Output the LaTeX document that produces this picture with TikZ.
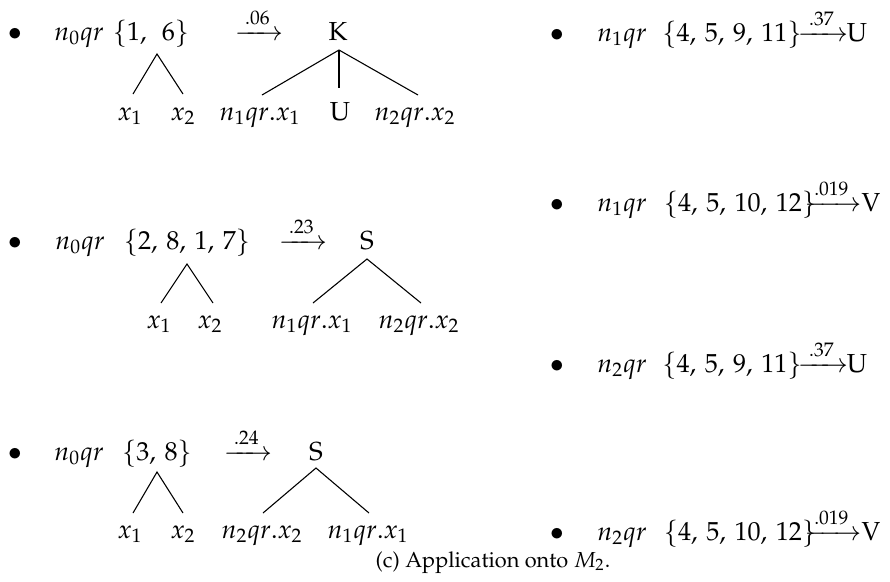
\documentclass[tikz,border=0pt]{standalone}
\usepackage{amsmath}
\usepackage[T1]{fontenc}
\usepackage{mathpazo}
\newcommand{\wlab}[1]{\xrightarrow{\hspace{2pt}#1\hspace{2pt}}}
\begin{document}
\begin{tikzpicture}[x=0.46pt,y=-0.46pt,
  every node/.style={inner sep=0pt, anchor=base, font=\fontsize{12}{14}\selectfont},
  capt/.style={font=\fontsize{10}{12}\selectfont},
  branch/.style={line width=0.5pt}]
\useasboundingbox (0,0) rectangle (890,581);
% ---------- row 1 left ----------
\node (b1) at (15,40) {$\bullet$};
\node (q1) at (79,40) {$n_0qr$};
\node (s1) at (151,40) {$\{1,\ \,6\}$};
\node (r1) at (259,40) {$\wlab{.06}$};
\node (K1) at (338,40) {K};
\node (l1a) at (130,120) {$x_1$};
\node (l1b) at (183,120) {$x_2$};
\node (l1c) at (260,120) {$n_1qr.x_1$};
\node (l1d) at (340,120) {U};
\node (l1e) at (415,120) {$n_2qr.x_2$};
\coordinate (t1) at (157,54);
\coordinate (t1a) at (133,94);
\coordinate (t1b) at (183,94);
\coordinate (k1) at (339,50);
\coordinate (k1a) at (262,95);
\coordinate (k1b) at (339,88);
\coordinate (k1c) at (418,95);
\draw[branch] (t1a) -- (t1) -- (t1b);
\draw[branch] (k1a) -- (k1) -- (k1c);
\draw[branch] (k1) -- (k1b);
% ---------- row 2 left ----------
\node (b2) at (15,249) {$\bullet$};
\node (q2) at (80,249) {$n_0qr$};
\node (s2) at (187,249) {$\{2,\,8,\,1,\,7\}$};
\node (r2) at (303,249) {$\wlab{.23}$};
\node (S2) at (367,249) {S};
\node (l2a) at (159,328) {$x_1$};
\node (l2b) at (210,328) {$x_2$};
\node (l2c) at (312,328) {$n_1qr.x_1$};
\node (l2d) at (419,328) {$n_2qr.x_2$};
\coordinate (t2) at (187,264);
\coordinate (t2a) at (161,303);
\coordinate (t2b) at (213,303);
\coordinate (k2) at (367,259);
\coordinate (k2a) at (313,303);
\coordinate (k2b) at (421,303);
\draw[branch] (t2a) -- (t2) -- (t2b);
\draw[branch] (k2a) -- (k2) -- (k2b);
% ---------- row 3 left ----------
\node (b3) at (15,460) {$\bullet$};
\node (q3) at (79,460) {$n_0qr$};
\node (s3) at (157,460) {$\{3,\,8\}$};
\node (r3) at (248,460) {$\wlab{.24}$};
\node (S3) at (316,460) {S};
\node (l3a) at (130,538) {$x_1$};
\node (l3b) at (183,538) {$x_2$};
\node (l3c) at (262,538) {$n_2qr.x_2$};
\node (l3d) at (368,538) {$n_1qr.x_1$};
\coordinate (t3) at (157,472);
\coordinate (t3a) at (133,513);
\coordinate (t3b) at (183,513);
\coordinate (k3) at (316,468);
\coordinate (k3a) at (263,513);
\coordinate (k3b) at (369,513);
\draw[branch] (t3a) -- (t3) -- (t3b);
\draw[branch] (k3a) -- (k3) -- (k3b);
% ---------- right column ----------
\node (rb1) at (557,41) {$\bullet$};
\node (rq1) at (622,41) {$n_1qr$};
\node (rs1) at (732,41) {$\{4,\,5,\,9,\,11\}$};
\node (ra1) at (823,41) {$\xrightarrow{\;.37\;}$};
\node (rl1) at (857,41) {U};
\node (rb2) at (557,211) {$\bullet$};
\node (rq2) at (622,211) {$n_1qr$};
\node (rs2) at (740,211) {$\{4,\,5,\,10,\,12\}$};
\node (ra2) at (833,211) {$\xrightarrow{\:.019\:}$};
\node (rl2) at (871,211) {V};
\node (rb3) at (557,372) {$\bullet$};
\node (rq3) at (622,372) {$n_2qr$};
\node (rs3) at (732,372) {$\{4,\,5,\,9,\,11\}$};
\node (ra3) at (823,372) {$\xrightarrow{\;.37\;}$};
\node (rl3) at (857,372) {U};
\node (rb4) at (557,540) {$\bullet$};
\node (rq4) at (622,540) {$n_2qr$};
\node (rs4) at (740,540) {$\{4,\,5,\,10,\,12\}$};
\node (ra4) at (833,540) {$\xrightarrow{\:.019\:}$};
\node (rl4) at (871,540) {V};
% ---------- caption ----------
\node[capt] (cap) at (493,567) {(c) Application onto $M_2$.};
\end{tikzpicture}
\end{document}
